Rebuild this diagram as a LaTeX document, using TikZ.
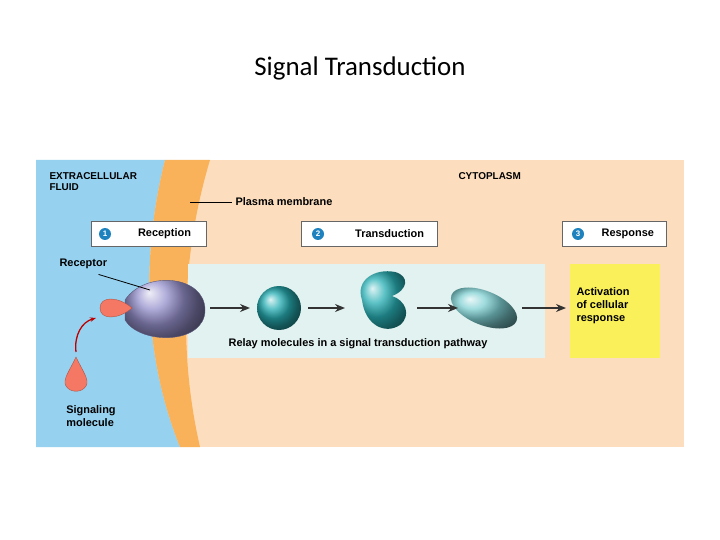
\documentclass[tikz,border=0pt]{standalone}
\usepackage{fontspec}
\setmainfont{Liberation Sans}
\newfontfamily\titlefont{Carlito}
\usetikzlibrary{arrows.meta}
\definecolor{fluid}{RGB}{150,210,240}
\definecolor{membr}{RGB}{250,178,90}
\definecolor{cyto}{RGB}{252,222,190}
\definecolor{relaybg}{RGB}{225,242,240}
\definecolor{resp}{RGB}{250,240,90}
\definecolor{teal}{RGB}{40,175,180}
\definecolor{purp}{RGB}{150,145,205}
\definecolor{drop}{RGB}{245,120,100}
\definecolor{numblue}{RGB}{30,130,190}
\begin{document}
\begin{tikzpicture}[x=1bp, y=-1bp,
    lbl/.style={font=\bfseries\fontsize{11}{13}\selectfont, align=left},
    stepbox/.style={draw=black!60, fill=white, minimum height=25bp, inner sep=2pt,
      font=\bfseries\fontsize{11}{12}\selectfont},
    num/.style={circle, fill=numblue, text=white, inner sep=0pt, minimum size=12bp,
      font=\bfseries\fontsize{8}{8}\selectfont},
    relay/.style={-{Stealth[length=10bp, width=8bp]}, line width=2.5pt, black!80}]
  \useasboundingbox (0,0) rectangle (720,540);

  % Title
  \node[font=\titlefont\fontsize{27}{30}\selectfont] (title) at (360,68) {Signal Transduction};

  % Background regions
  \fill[cyto] (36,160) rectangle (684,447);
  \fill[fluid] (36,160) -- (165,160) .. controls (140,260) and (145,360) .. (180,447) -- (36,447) -- cycle;
  \fill[membr] (165,160) .. controls (140,260) and (145,360) .. (180,447)
    -- (200,447) .. controls (180,360) and (180,260) .. (210,160) -- cycle;
  \fill[relaybg] (188,264) rectangle (545,358);
  \fill[resp] (570,264) rectangle (660,358);

  % Labels
  \node[lbl, anchor=north west, font=\bfseries\fontsize{10}{11}\selectfont] (fluidlbl) at (46,169) {EXTRACELLULAR\\FLUID};
  \node[lbl, anchor=north west, font=\bfseries\fontsize{10}{11}\selectfont] (cytolbl) at (455,169) {CYTOPLASM};
  \coordinate (mline) at (190,202);
  \node[lbl, anchor=west] (mlbl) at (232,202) {Plasma membrane};
  \draw[line width=1pt] (mline) -- (mlbl.west);

  % Steps
  \node[stepbox, minimum width=115bp, text width=85bp, align=right] (reception) at (148.5,233.5) {Reception};
  \node[num] (num1) at (105,234) {1};
  \node[stepbox, minimum width=136bp, text width=110bp, align=right] (transduction) at (369,233.5) {Transduction};
  \node[num] (num2) at (318,234) {2};
  \node[stepbox, minimum width=104bp, text width=80bp, align=right] (response) at (614,233.5) {Response};
  \node[num] (num3) at (578,234) {3};

  % Receptor and signaling molecule
  \shade[ball color=purp, draw=purp!60!black] (125,300) .. controls (145,270) and (205,275) .. (205,310)
    .. controls (205,345) and (140,345) .. (125,320) -- cycle;
  \coordinate (receptor) at (150,290);
  \fill[drop, draw=drop!70!black] (132,308) .. controls (118,296) and (100,296) .. (100,308)
    .. controls (100,320) and (118,320) .. (132,308) -- cycle;
  \node[lbl, anchor=west] (reclbl) at (56,264) {Receptor};
  \draw[line width=0.8pt] (reclbl.south east) ++(-12,2) -- (receptor);
  \fill[drop, draw=drop!70!black] (76,357) .. controls (70,370) and (62,380) .. (66,386)
    .. controls (70,393) and (82,393) .. (86,386) .. controls (90,380) and (82,370) .. (76,357) -- cycle;
  \coordinate (sigtop) at (76,352);
  \coordinate (sigend) at (96,318);
  \draw[-{Stealth[length=6bp]}, line width=1.3pt, red!75!black] (sigtop) .. controls (74,335) and (82,322) .. (sigend);
  \node[lbl] (siglbl) at (91,416) {Signaling\\molecule};

  % Relay molecules
  \shade[ball color=teal] (279,308) circle (22);
  \shade[ball color=teal] (362,300) .. controls (355,280) and (375,268) .. (395,272)
    .. controls (410,276) and (408,290) .. (392,296) .. controls (405,300) and (412,315) .. (400,325)
    .. controls (385,335) and (365,325) .. (362,300) -- cycle;
  \shade[ball color=teal!60, rotate around={-22:(484,308)}] (484,308) ellipse (35 and 17);
  \draw[relay] (210,308) -- (250,308);
  \draw[relay] (308,308) -- (345,308);
  \draw[relay] (417,308) -- (458,308);
  \draw[relay] (522,308) -- (566,308);
  \node[lbl] (relaylbl) at (358,344) {Relay molecules in a signal transduction pathway};
  \node[lbl, anchor=north west] (actlbl) at (573,284) {Activation\\of cellular\\response};
\end{tikzpicture}
\end{document}
